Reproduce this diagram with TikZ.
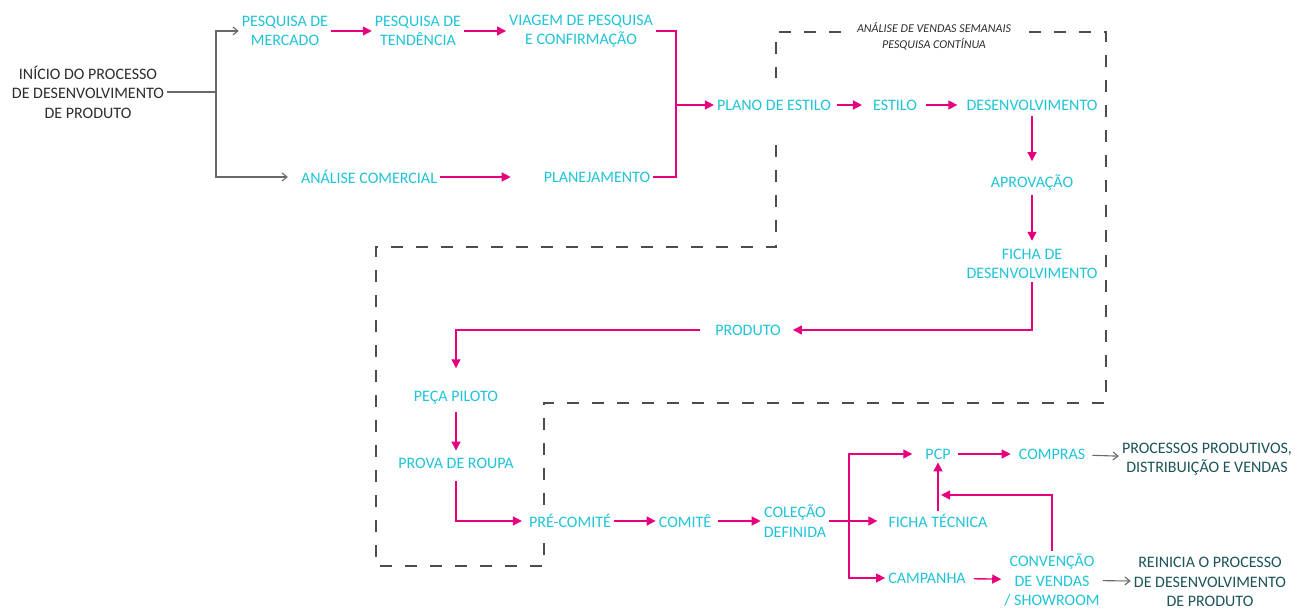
\documentclass[tikz,border=0pt]{standalone}
\usepackage{fontspec}
\setmainfont{Carlito}
\usetikzlibrary{arrows.meta}
\definecolor{ciano}{RGB}{32,196,216}
\definecolor{rosa}{RGB}{230,0,126}
\definecolor{petroleo}{RGB}{28,84,88}
\definecolor{grafite}{RGB}{45,45,45}
\definecolor{cinza}{RGB}{105,105,105}
\tikzset{
  etapa/.style={text=ciano, align=center, fill=white, inner sep=3pt, font=\fontsize{16}{19.5}\selectfont},
  saida/.style={etapa, text=petroleo},
  linha/.style={draw=rosa, line width=1.4pt},
  seta/.style={linha, -{Triangle[length=9pt,width=9pt]}},
  fio/.style={draw=cinza, line width=1.1pt},
  setafio/.style={fio, -{Straight Barb[length=5pt,width=8pt]}},
  tracejado/.style={draw=grafite!85, line width=1.4pt, dash pattern=on 12pt off 13pt}
}
\begin{document}
\begin{tikzpicture}[x=1pt, y=-1pt]
\useasboundingbox (0,0) rectangle (1298,609);

% area de acompanhamento
\draw[tracejado] (776,145) -- (776,247) -- (376,247) -- (376,566) -- (544,566) -- (544,403)
  -- (1106,403) -- (1106,32) -- (776,32) -- (776,78);
\node[fill=white, text=grafite, align=center, inner sep=2pt, inner xsep=6pt, font=\fontsize{12}{16}\selectfont\itshape] (tit) at (934,36) {ANÁLISE DE VENDAS SEMANAIS\\PESQUISA CONTÍNUA};

% etapas
\node[etapa, text=grafite] (inicio) at (88,92) {INÍCIO DO PROCESSO\\DE DESENVOLVIMENTO\\DE PRODUTO};
\node[etapa] (merc) at (285,31) {PESQUISA DE\\MERCADO};
\node[etapa] (tend) at (418,31) {PESQUISA DE\\TENDÊNCIA};
\node[etapa] (viag) at (581,31) {VIAGEM DE PESQUISA\\E CONFIRMAÇÃO};
\node[etapa] (anal) at (369,177) {ANÁLISE COMERCIAL};
\node[etapa] (plan) at (597,177) {PLANEJAMENTO};
\node[etapa] (plano) at (774,105) {PLANO DE ESTILO};
\node[etapa] (estilo) at (895,105) {ESTILO};
\node[etapa] (desenv) at (1032,105) {DESENVOLVIMENTO};
\node[etapa] (aprov) at (1032,182) {APROVAÇÃO};
\node[etapa] (fichad) at (1032,264) {FICHA DE\\DESENVOLVIMENTO};
\node[etapa] (produto) at (748,330) {PRODUTO};
\node[etapa] (peca) at (456,398) {PEÇA PILOTO};
\node[etapa] (prova) at (456,463) {PROVA DE ROUPA};
\node[etapa] (pre) at (570,521) {PRÉ-COMITÉ};
\node[etapa] (comite) at (685,521) {COMITÊ};
\node[etapa] (colecao) at (795,521) {COLEÇÃO\\DEFINIDA};
\node[etapa] (pcp) at (938,454) {PCP};
\node[etapa] (compras) at (1052,454) {COMPRAS};
\node[saida] (procs) at (1207,459) {PROCESSOS PRODUTIVOS,\\DISTRIBUIÇÃO E VENDAS};
\node[etapa] (ficha) at (938,521) {FICHA TÉCNICA};
\node[etapa] (campanha) at (927,578) {CAMPANHA};
\node[etapa] (conv) at (1052,580) {CONVENÇÃO\\DE VENDAS\\/ SHOWROOM};
\node[saida] (reinicia) at (1210,582) {REINICIA O PROCESSO\\DE DESENVOLVIMENTO\\DE PRODUTO};

\coordinate (bif) at (216,92);
\coordinate (junta) at (676,105);
\coordinate (div) at (849,521);
\coordinate (ret) at (941,495);

% ligacoes
\draw[fio] (inicio) -- (bif);
\draw[setafio] (bif) |- (merc);
\draw[setafio, shorten >=10pt] (bif) |- (anal);
\draw[seta] (merc) -- (tend);
\draw[seta] (tend) -- (viag);
\draw[seta, shorten >=30pt] (anal) -- (plan);
\draw[linha] (viag.east) -| (junta);
\draw[linha] (plan.east) -| (junta);
\draw[seta] (junta) -- (plano);
\draw[seta, shorten <=3pt, shorten >=8pt] (plano) -- (estilo);
\draw[seta, shorten <=6pt, shorten >=6pt] (estilo) -- (desenv);
\draw[seta, shorten <=3pt, shorten >=10pt] (desenv) -- (aprov);
\draw[seta, shorten <=2pt, shorten >=5pt] (aprov) -- (fichad);
\draw[seta, shorten >=9pt] (fichad) |- (produto);
\draw[seta, shorten <=12pt, shorten >=20pt] (produto.west) -| (peca);
\draw[seta, shorten <=4pt, shorten >=4pt] (peca) -- (prova);
\draw[seta, shorten <=10pt, shorten >=4pt] (prova) |- (pre);
\draw[seta] (pre) -- (comite);
\draw[seta, shorten <=4pt] (comite) -- (colecao);
\draw[seta, shorten >=8pt] (colecao) -- (ficha);
\draw[seta, shorten >=10pt] (div) |- (pcp);
\draw[seta] (div) |- (campanha);
\draw[seta, shorten <=4pt, shorten >=5pt] (pcp) -- (compras);
\draw[setafio, shorten <=4pt] (compras) -- (procs);
\draw[seta] (ficha) -- (pcp);
\draw[seta] (conv) |- (ret);
\draw[seta, shorten <=5pt] (campanha) -- (conv);
\draw[setafio] (conv) -- (reinicia);

\end{tikzpicture}
\end{document}
